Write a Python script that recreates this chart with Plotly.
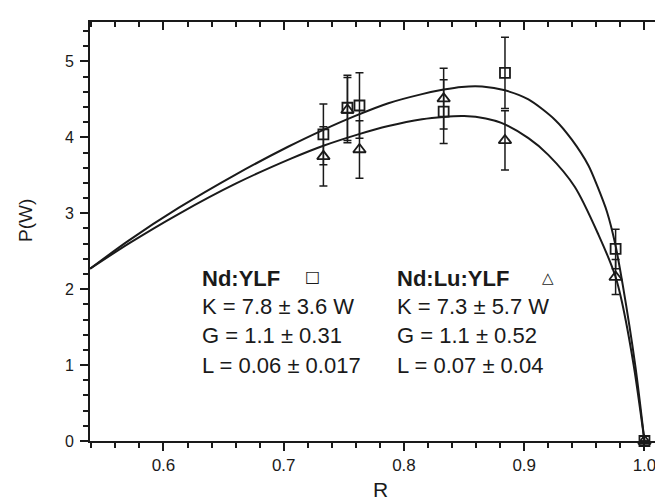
import plotly.graph_objects as go

# ---------------- data ----------------
# measured points, Nd:YLF (squares)
R_ylf = [0.733, 0.753, 0.763, 0.833, 0.884, 0.976, 1.0]
P_ylf = [4.04, 4.39, 4.42, 4.34, 4.85, 2.53, 0.0]
E_ylf = [0.40, 0.43, 0.43, 0.42, 0.47, 0.26, 0.0]

# measured points, Nd:Lu:YLF (triangles)
R_lu = [0.733, 0.753, 0.763, 0.833, 0.884, 0.976, 1.0]
P_lu = [3.75, 4.36, 3.84, 4.51, 3.96, 2.16, 0.0]
E_lu = [0.39, 0.43, 0.38, 0.40, 0.39, 0.23, 0.0]

# fitted curves
R_fit_ylf = [0.539, 0.571, 0.6125, 0.66, 0.704, 0.733, 0.759, 0.787, 0.815,
             0.833, 0.848, 0.865, 0.884, 0.9035, 0.9257, 0.9396, 0.9534, 0.961,
             0.9688, 0.9756, 0.982, 0.9923, 1.0]
P_fit_ylf = [2.27, 2.64, 3.07, 3.51, 3.88, 4.10, 4.28, 4.45, 4.57,
             4.63, 4.665, 4.67, 4.62, 4.50, 4.23, 3.97, 3.63, 3.35,
             3.02, 2.60, 2.05, 1.0, 0.0]

R_fit_lu = [0.539, 0.571, 0.6125, 0.66, 0.706, 0.733, 0.762, 0.787, 0.815,
            0.833, 0.850, 0.868, 0.881, 0.9035, 0.920, 0.942, 0.9617, 0.9756,
            0.981, 0.991, 1.0]
P_fit_lu = [2.27, 2.60, 2.99, 3.39, 3.72, 3.89, 4.04, 4.15, 4.24,
            4.27, 4.28, 4.25, 4.19, 3.99, 3.77, 3.35, 2.72, 2.18,
            1.85, 1.0, 0.0]

x_ticks = [0.6, 0.7, 0.8, 0.9, 1.0]
x_ticklabels = ["0.6", "0.7", "0.8", "0.9", "1.0"]
y_ticks = [0, 1, 2, 3, 4, 5]

label_ylf = ["<b>Nd:YLF</b>", "K = 7.8 ± 3.6 W", "G = 1.1 ± 0.31", "L = 0.06 ± 0.017"]
label_lu = ["<b>Nd:Lu:YLF</b>", "K = 7.3 ± 5.7 W", "G = 1.1 ± 0.52", "L = 0.07 ± 0.04"]

# ---------------- layout geometry ----------------
W, H = 663, 502
L_M, R_M, T_M, B_M = 82, 2, 14, 69
X_RANGE = [0.5389, 1.0204]
Y_RANGE = [0.0, 5.52]
INK = "#1a1a1a"
FONT = "Liberation Sans, Arial, Helvetica, sans-serif"

def px(xp):
    return (xp - L_M) / (W - L_M - R_M)

def py(yp):
    return (H - B_M - yp) / (H - T_M - B_M)

fig = go.Figure()

fig.add_trace(go.Scatter(x=R_fit_ylf, y=P_fit_ylf, mode="lines",
                         line=dict(color=INK, width=2, shape="spline", smoothing=0.8),
                         showlegend=False, hoverinfo="skip"))
fig.add_trace(go.Scatter(x=R_fit_lu, y=P_fit_lu, mode="lines",
                         line=dict(color=INK, width=2, shape="spline", smoothing=0.8),
                         showlegend=False, hoverinfo="skip"))

fig.add_trace(go.Scatter(x=R_ylf, y=P_ylf, mode="markers",
                         marker=dict(symbol="square-open", size=10, color=INK,
                                     line=dict(width=1.8, color=INK)),
                         error_y=dict(type="data", array=E_ylf, visible=True,
                                      color=INK, thickness=1.5, width=4),
                         cliponaxis=False, showlegend=False))
fig.add_trace(go.Scatter(x=R_lu, y=P_lu, mode="markers",
                         marker=dict(symbol="triangle-up-open", size=11, color=INK,
                                     line=dict(width=1.8, color=INK)),
                         error_y=dict(type="data", array=E_lu, visible=True,
                                      color=INK, thickness=1.5, width=4),
                         cliponaxis=False, showlegend=False))

# dummy trace so the mirrored (top / right) axes are drawn
fig.add_trace(go.Scatter(x=[], y=[], xaxis="x2", yaxis="y2", showlegend=False,
                         hoverinfo="skip"))

common_axis = dict(showgrid=False, zeroline=False, showline=True, linecolor=INK,
                   linewidth=2, tickcolor=INK, tickwidth=1.5)

fig.update_layout(
    width=W, height=H,
    margin=dict(l=L_M, r=R_M, t=T_M, b=B_M, autoexpand=False),
    paper_bgcolor="white", plot_bgcolor="white",
    font=dict(family=FONT, color=INK),
    xaxis=dict(range=X_RANGE, tickvals=x_ticks, ticktext=x_ticklabels,
               ticks="outside", ticklen=8,
               minor=dict(dtick=0.02, tick0=0, ticks="outside", ticklen=5,
                          tickcolor=INK, tickwidth=1.5),
               tickfont=dict(size=17, family=FONT, color=INK), **common_axis),
    yaxis=dict(range=Y_RANGE, tickvals=y_ticks, ticks="outside", ticklen=8,
               minor=dict(dtick=0.2, tick0=0, ticks="outside", ticklen=5,
                          tickcolor=INK, tickwidth=1.5),
               tickfont=dict(size=16, family=FONT, color=INK), ticklabelstandoff=3,
               **common_axis),
    xaxis2=dict(range=X_RANGE, overlaying="x", side="top", anchor="y",
                tickvals=x_ticks, ticks="inside", ticklen=8, showticklabels=False,
                minor=dict(dtick=0.02, tick0=0, ticks="inside", ticklen=5,
                           tickcolor=INK, tickwidth=1.5),
                **common_axis),
    yaxis2=dict(range=Y_RANGE, overlaying="y", side="right", anchor="x",
                tickvals=y_ticks, ticks="inside", ticklen=8, showticklabels=False,
                minor=dict(dtick=0.2, tick0=0, ticks="inside", ticklen=5,
                           tickcolor=INK, tickwidth=1.5),
                **common_axis),
)

ann = []
# axis titles
ann.append(dict(text="R", x=px(372), y=py(481), xref="paper", yref="paper",
                xanchor="center", yanchor="middle",
                showarrow=False, font=dict(size=21, family=FONT, color=INK)))
ann.append(dict(text="P(W)", x=px(17), y=py(213), xref="paper", yref="paper",
                xanchor="center", yanchor="middle",
                showarrow=False, textangle=-90, font=dict(size=19, family=FONT, color=INK)))

line_y = [270, 298.5, 327.5, 357]
for i, t in enumerate(label_ylf):
    ann.append(dict(text=t, x=px(192), y=py(line_y[i]), xref="paper", yref="paper",
                    xanchor="left", yanchor="middle", showarrow=False,
                    font=dict(size=22, family=FONT, color=INK)))
for i, t in enumerate(label_lu):
    ann.append(dict(text=t, x=px(387), y=py(line_y[i]), xref="paper", yref="paper",
                    xanchor="left", yanchor="middle", showarrow=False,
                    font=dict(size=22, family=FONT, color=INK)))
# legend symbols
ann.append(dict(text="□", x=px(304), y=py(268), xref="paper", yref="paper",
                xanchor="center", yanchor="middle",
                showarrow=False, font=dict(size=16, family="DejaVu Sans", color=INK)))
ann.append(dict(text="△", x=px(540), y=py(270), xref="paper", yref="paper",
                xanchor="center", yanchor="middle",
                showarrow=False, font=dict(size=15, family="DejaVu Sans", color=INK)))

fig.update_layout(annotations=ann)

fig.write_html("out.html")
